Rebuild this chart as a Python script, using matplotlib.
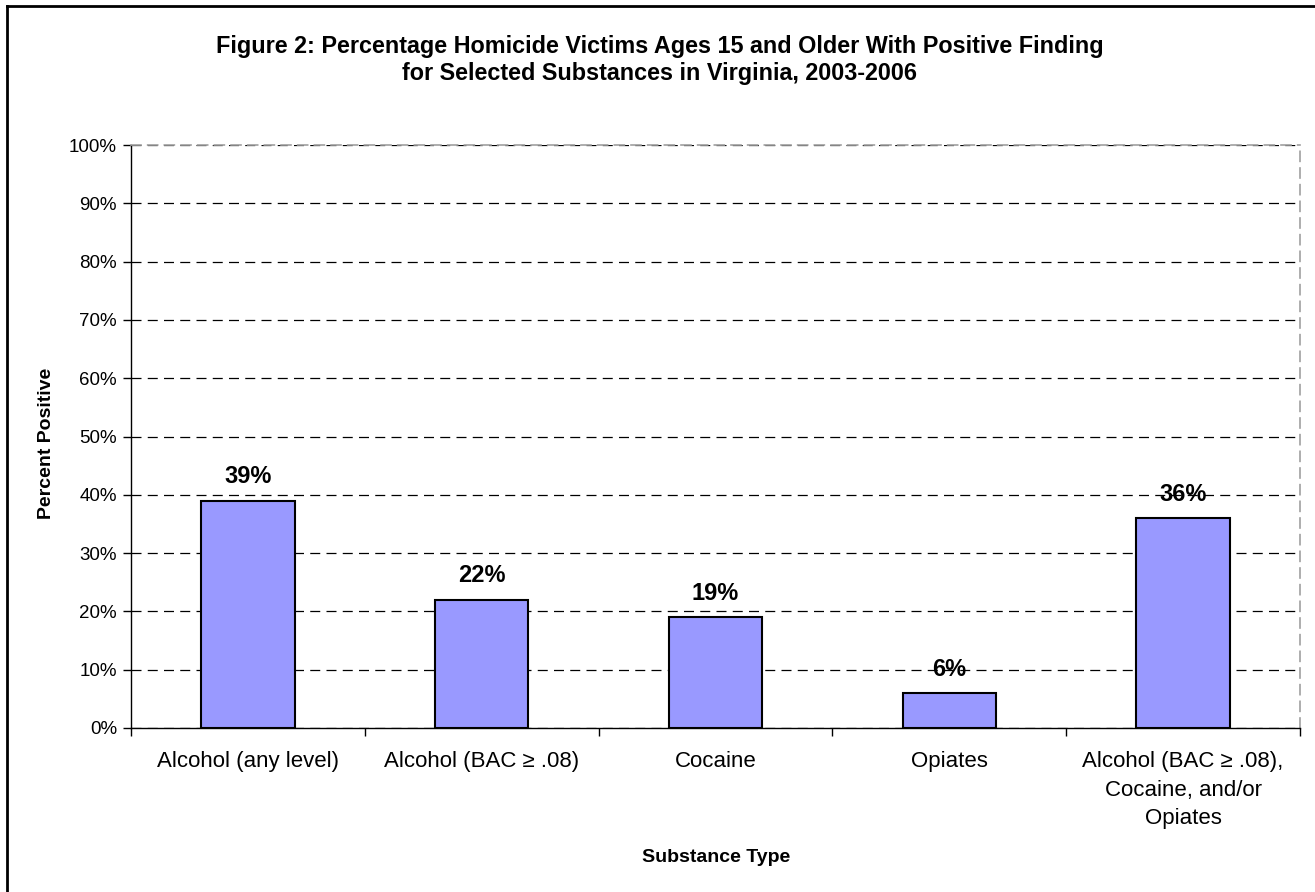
import matplotlib
matplotlib.use("Agg")
import matplotlib.pyplot as plt
from matplotlib.lines import Line2D

plt.rcParams['font.family'] = ['Liberation Sans', 'DejaVu Sans']

categories = [
    "Alcohol (any level)",
    "Alcohol (BAC \u2265 .08)",
    "Cocaine",
    "Opiates",
    "Alcohol (BAC \u2265 .08),\nCocaine, and/or\nOpiates",
]
values = [39, 22, 19, 6, 36]
value_labels = ["39%", "22%", "19%", "6%", "36%"]
yticks = list(range(0, 101, 10))
ytick_labels = [f"{t}%" for t in yticks]

W, H = 1315, 892
fig = plt.figure(figsize=(W / 100, H / 100), dpi=100)

# plot area in pixel coordinates
left, right, top, bottom = 131, 1300, 145, 728
ax = fig.add_axes([left / W, 1 - bottom / H, (right - left) / W, (bottom - top) / H])

x = list(range(len(categories)))
ax.bar(x, values, width=0.4, color="#9999FF", edgecolor="black", linewidth=1.5, zorder=3)

for xi, v, lab in zip(x, values, value_labels):
    ax.annotate(lab, (xi, v), xytext=(0, 9), textcoords="offset points",
                ha="center", va="bottom", fontsize=17, fontweight="bold", zorder=4)

ax.set_xlim(-0.5, len(categories) - 0.5)
ax.set_ylim(0, 100)
ax.set_yticks(yticks)
ax.set_yticklabels(ytick_labels, fontsize=13.5)
ax.yaxis.grid(True, linestyle=(0, (8, 5)), color="black", linewidth=0.9, zorder=0)

# category labels centred under bars, tick marks between categories
ax.set_xticks([i - 0.5 for i in range(len(categories) + 1)])
ax.set_xticklabels([])
ax.tick_params(axis="x", length=6, width=1, direction="out")
ax.tick_params(axis="y", length=6, width=1, direction="out", pad=4)
for xi, cat in zip(x, categories):
    ax.text(xi, -4.0, cat, ha="center", va="top", fontsize=16, linespacing=1.45,
            transform=ax.transData)

for side in ("top", "right"):
    ax.spines[side].set_color("#a0a0a0")
    ax.spines[side].set_linestyle((0, (6, 4)))
    ax.spines[side].set_linewidth(1.2)
ax.spines["left"].set_linewidth(1)
ax.spines["bottom"].set_linewidth(1)

fig.text(47 / W, 1 - 443 / H, "Percent Positive", rotation=90, ha="center", va="center",
         fontsize=14, fontweight="bold")

fig.text(716 / W, 1 - 857 / H, "Substance Type", ha="center", va="center",
         fontsize=14, fontweight="bold")

fig.text(660 / W, 1 - 60 / H,
         "Figure 2: Percentage Homicide Victims Ages 15 and Older With Positive Finding\n"
         "for Selected Substances in Virginia, 2003-2006",
         ha="center", va="center", fontsize=16.8, fontweight="bold", linespacing=1.25)

# outer frame (left and top edges)
fig.add_artist(Line2D([7 / W, 7 / W], [0, 1 - 6 / H], transform=fig.transFigure,
                      color="black", linewidth=2))
fig.add_artist(Line2D([7 / W, 1], [1 - 6 / H, 1 - 6 / H], transform=fig.transFigure,
                      color="black", linewidth=2))

fig.savefig("out.png", dpi=100)
